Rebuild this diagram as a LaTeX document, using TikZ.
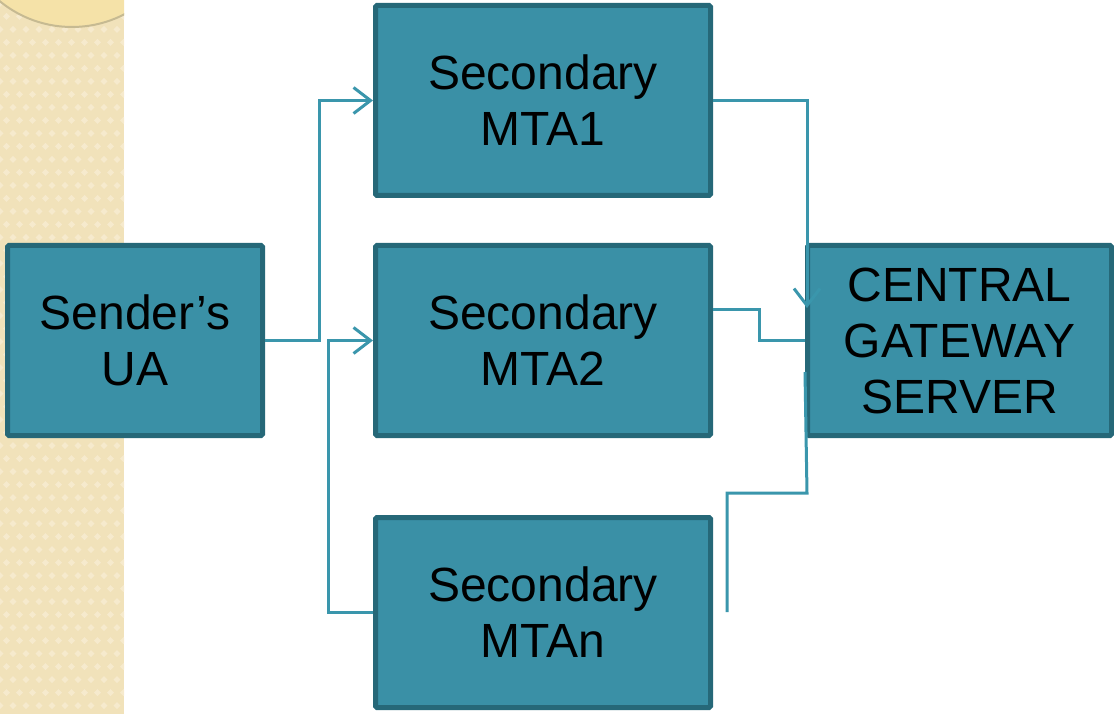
\documentclass[tikz,border=0pt]{standalone}
\usepackage{fontspec}
\setmainfont{Liberation Sans}
\usetikzlibrary{arrows.meta}
\definecolor{boxfill}{RGB}{58,144,166}
\definecolor{boxline}{RGB}{38,104,120}
\definecolor{conn}{RGB}{58,150,172}
\definecolor{strip}{RGB}{241,226,186}
\definecolor{stripb}{RGB}{246,234,205}
\definecolor{disc}{RGB}{245,226,168}
\definecolor{discline}{RGB}{198,186,146}
\tikzset{
  block/.style={draw=boxline, fill=boxfill, line width=5pt, rounded corners=1.5pt,
    minimum width=335pt, minimum height=190pt, inner sep=0pt,
    align=center, text=black, font=\fontsize{48}{56}\selectfont},
  connector/.style={draw=conn, line width=3pt},
  tipped/.style={connector, -{Straight Barb[length=17pt,width=26pt,line width=3pt]}}
}
\begin{document}
\begin{tikzpicture}[x=1pt,y=-1pt]
\useasboundingbox (0,0) rectangle (1114,714);
% textured strip
\fill[strip] (0,0) rectangle (124,714);
\begin{scope}
\clip (0,0) rectangle (124,714);
\foreach \i in {0,...,9}{
  \foreach \j in {0,...,56}{
    \fill[stripb] ({\i*13+6.5*mod(\j,2)},{\j*13}) -- ++(3.5,3.5) -- ++(-3.5,3.5) -- ++(-3.5,-3.5) -- cycle;
  }
}
\filldraw[fill=disc, draw=discline, line width=2pt] (72,-87) circle (114);
\end{scope}
% nodes
\node[block, minimum width=255pt] (sender) at (135,340.5) {Sender’s\\UA};
\node[block] (mta1) at (543,100.5) {Secondary\\MTA1};
\node[block] (mta2) at (543,340.5) {Secondary\\MTA2};
\node[block] (mtan) at (543,612.5) {Secondary\\MTAn};
\node[block, minimum width=304pt] (central) at (959.5,340.5) {CENTRAL\\GATEWAY\\SERVER};
% connectors
\coordinate (tipc) at (807,308);
\coordinate (endn) at (727,612);
\draw[tipped] (sender.east) -- (319,340.5) |- (mta1.west);
\draw[tipped] (mtan.west) -- (328,612.5) |- (mta2.west);
\draw[tipped] (mta1.east) -| (tipc);
\draw[connector] (mta2.east |- 0,309) -- (759,309) |- (central.west);
\draw[connector] ([yshift=-31.5pt]central.west) -- (807,493) -| (endn);
\end{tikzpicture}
\end{document}
